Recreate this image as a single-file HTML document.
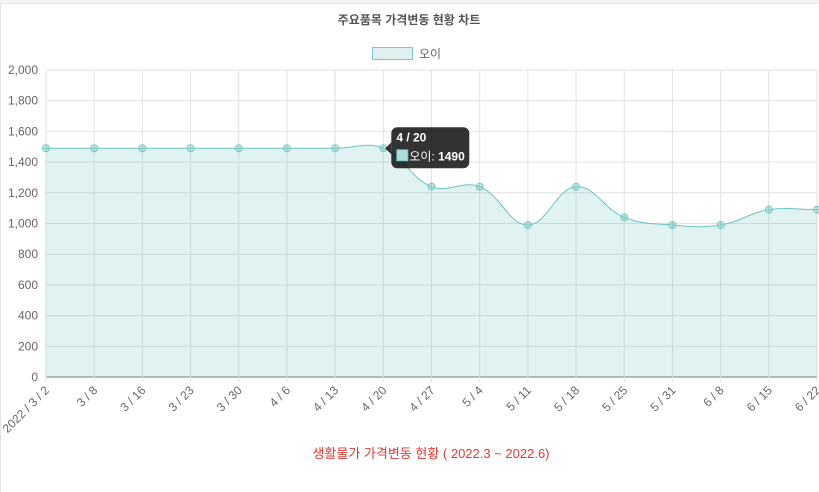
<!DOCTYPE html>
<html><head><meta charset="utf-8"><style>
html,body{margin:0;padding:0;background:#fff;}
body{width:819px;height:492px;overflow:hidden;position:relative;font-family:"Liberation Sans","Noto Sans CJK KR",sans-serif;}
#frame{position:absolute;left:0;top:3px;width:818px;height:489px;border-left:1px solid #e3e3e3;border-top:1px solid #e3e3e3;box-sizing:border-box;}
#topbar{position:absolute;left:0;top:0;width:819px;height:3px;background:#f3f4f6;}
</style></head><body>
<div id="topbar"></div>
<div id="frame"></div>
<svg id="chart" width="819" height="492" style="position:absolute;left:0;top:0"></svg>
<script>
const categories=["2022 / 3 / 2","3 / 8","3 / 16","3 / 23","3 / 30","4 / 6","4 / 13","4 / 20","4 / 27","5 / 4","5 / 11","5 / 18","5 / 25","5 / 31","6 / 8","6 / 15","6 / 22"];
const values=[1490,1490,1490,1490,1490,1490,1490,1490,1240,1240,990,1240,1040,990,990,1090,1090];
const yTicks=[0,200,400,600,800,1000,1200,1400,1600,1800,2000];
const seriesName="오이";
const tooltipIndex=7;

const NS="http://www.w3.org/2000/svg";
const svg=document.getElementById('chart');
const X0=46,X1=817,Y0=377,Y1=70,YMAX=2000;
function xs(i){return X0+(X1-X0)*i/(categories.length-1);}
function ys(v){return Y0-(Y0-Y1)*v/YMAX;}
function mk(tag,attrs,parent){const e=document.createElementNS(NS,tag);for(const k in attrs)e.setAttribute(k,attrs[k]);(parent||svg).appendChild(e);return e;}

let t=mk('text',{x:409,y:24,'text-anchor':'middle','font-size':12,'font-weight':'bold',fill:'#555'});


t.textContent='주요품목 가격변동 현황 차트';

let lb=mk('rect',{x:372.5,y:47.5,width:40,height:12,fill:'#e0f0f0',stroke:'#7cc8c8','stroke-width':1});


let lt=mk('text',{x:419,y:58,'font-size':12,fill:'#666'});


lt.textContent=seriesName;

yTicks.forEach(v=>{
  const y=ys(v);
  let g=mk('line',{x1:X0,x2:X1,y1:y,y2:y,stroke:v===0?'#bbb':'#e2e2e2','stroke-width':v===0?2:1});
  
  
  let tx=mk('text',{x:38,y:y+4,'text-anchor':'end','font-size':12,fill:'#666'});
  
  
  tx.textContent=v.toLocaleString('en-US');
});
categories.forEach((c,i)=>{
  const x=xs(i);
  let g=mk('line',{x1:x,x2:x,y1:Y1,y2:Y0+5,stroke:'#e2e2e2','stroke-width':1});
  
  
  let tx=mk('text',{x:x+4,y:Y0+14,'text-anchor':'end','font-size':12,fill:'#666',transform:`rotate(-45 ${x+4} ${Y0+14})`});
  
  
  tx.textContent=c;
});

// chart.js-like spline
const pts=values.map((v,i)=>({x:xs(i),y:ys(v)}));
const T=0.4;
const cps=pts.map((p,i)=>{
  const prev=pts[i-1]||p,next=pts[i+1]||p;
  const d01=Math.hypot(p.x-prev.x,p.y-prev.y),d12=Math.hypot(next.x-p.x,next.y-p.y);
  let fa=d01/(d01+d12)||0,fb=d12/(d01+d12)||0;fa*=T;fb*=T;
  return {px:p.x-fa*(next.x-prev.x),py:p.y-fa*(next.y-prev.y),nx:p.x+fb*(next.x-prev.x),ny:p.y+fb*(next.y-prev.y)};
});
let d=`M${pts[0].x},${pts[0].y}`;
for(let i=1;i<pts.length;i++){
  const a=cps[i-1],b=cps[i];
  d+=` C${Math.min(Math.max(a.nx,X0),X1)},${Math.min(Math.max(a.ny,Y1),Y0)} ${Math.min(Math.max(b.px,X0),X1)},${Math.min(Math.max(b.py,Y1),Y0)} ${pts[i].x},${pts[i].y}`;
}
let area=mk('path',{d:d+` L${pts[pts.length-1].x},${Y0} L${pts[0].x},${Y0} Z`,fill:'rgba(75,180,180,0.17)'});


let line=mk('path',{d:d,fill:'none',stroke:'#6cc3c3','stroke-width':1});


pts.forEach((p,i)=>{
  let c=mk('circle',{cx:p.x,cy:p.y,r:3.5,fill:'rgba(150,210,210,0.5)',stroke:'#80c8c8','stroke-width':1});
  
  
  mk('line',{x1:p.x-3.5,x2:p.x+3.5,y1:p.y,y2:p.y,stroke:'#80c8c8','stroke-width':0.8});
  mk('line',{x1:p.x,x2:p.x,y1:p.y-3.5,y2:p.y+3.5,stroke:'#80c8c8','stroke-width':0.8});
});

// tooltip
const tp=pts[tooltipIndex];
const tg=mk('g',{});


const bx=tp.x+8,by=tp.y-21;
mk('path',{d:`M${bx-6},${tp.y} L${bx},${tp.y-6} L${bx},${tp.y+6} Z`,fill:'rgba(0,0,0,0.8)'},tg);
mk('rect',{x:bx,y:by,width:78,height:41,rx:6,fill:'rgba(0,0,0,0.8)'},tg);
let tt=mk('text',{x:bx+5,y:by+14,'font-size':12,'font-weight':'bold',fill:'#fff'},tg);tt.textContent=categories[tooltipIndex];
mk('rect',{x:bx+5.5,y:by+22.5,width:11,height:11,fill:'#b0dcdc',stroke:'#6cc3c3'},tg);
let tv=mk('text',{x:bx+18,y:by+33,'font-size':12,fill:'#fff'},tg);
tv.innerHTML=seriesName+': <tspan font-weight="bold">'+values[tooltipIndex]+'</tspan>';

let ft=mk('text',{x:431,y:458,'text-anchor':'middle','font-size':13,fill:'#e53935'});


ft.textContent='생활물가 가격변동 현황 ( 2022.3 ~ 2022.6)';
</script>
</body></html>
